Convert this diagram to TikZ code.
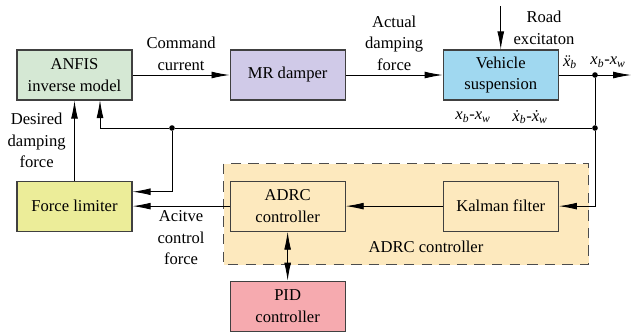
\documentclass[tikz,border=0pt]{standalone}
\usepackage{fontspec}
\setmainfont{Liberation Serif}
\usetikzlibrary{arrows.meta, positioning, calc, backgrounds}

\definecolor{anfisgreen}{RGB}{213,232,212}
\definecolor{mrpurple}{RGB}{208,202,232}
\definecolor{vehblue}{RGB}{160,216,240}
\definecolor{limyellow}{RGB}{236,237,153}
\definecolor{adrcorange}{RGB}{253,233,190}
\definecolor{pidred}{RGB}{246,170,175}

% italic state variables set in the text font
\newcommand{\sv}[2]{\textit{#1}\textsubscript{\textit{#2}}}

\begin{document}
\begin{tikzpicture}[node distance=2cm and 2.425cm,
  font=\fontsize{11.8}{15.2}\selectfont,
  blk/.style={draw=black!75, line width=0.8pt, minimum width=2.875cm,
              minimum height=1.25cm, align=center, inner sep=1pt},
  sig/.style={-{Latex[length=4.5mm, width=1.7mm]}, line width=0.6pt},
  dot/.style={circle, fill=black, inner sep=0pt, minimum size=1.4mm},
  lbl/.style={align=center, inner sep=1pt}]
  \useasboundingbox (0,0) rectangle (15.8,-8.275);

  % top row: plant chain
  \node[blk, fill=anfisgreen] at (1.8625,-1.875) (anfis) {ANFIS\\inverse model};
  \node[blk, fill=mrpurple, right=of anfis] (mr)  {MR damper};
  \node[blk, fill=vehblue,  right=of mr]    (veh) {Vehicle\\suspension};

  % bottom row: controller
  \node[blk, fill=limyellow,  below=of anfis] (flim) {Force limiter};
  \node[blk, fill=adrcorange, below=of mr]    (adrc) {ADRC\\controller};
  \node[blk, fill=adrcorange, below=of veh]   (kal)  {Kalman filter};
  \node[blk, fill=pidred, below=1.225cm of adrc] (pid) {PID\\controller};

  % dashed frame round the ADRC part
  \begin{scope}[on background layer]
    \draw[dash pattern=on 2.6mm off 1.8mm, black!70, line width=0.8pt,
          fill=adrcorange]
      ($(adrc.north west)+(-0.15,0.425)$) rectangle ($(kal.south east)+(0.75,-0.825)$);
  \end{scope}
  \node[lbl] at (10.65,-6.175) {ADRC controller};

  % junctions
  \coordinate (out) at (15.78,-1.875);
  \node[dot] at (14.875,-1.875) (jout) {};
  \node[dot] at (14.875,-3.2)   (jfb)  {};
  \node[dot] at (4.3,-3.2)      (jlim) {};
  \coordinate (road) at ($(veh.north)+(0,1.075)$);

  % forward path
  \draw[sig] (anfis) -- node[lbl, above=2pt] {Command\\current} (mr);
  \draw[sig] (mr) -- node[lbl, above=2pt] {Actual\\damping\\force} (veh);
  \draw[sig] (road) -- (veh);
  \node[lbl] at (13.6,-0.7) {Road\\excitaton};
  \draw[sig] (veh) -- (out);
  \node[inner sep=0pt] at (14.25,-1.55) {\sv{\"x}{b}};
  \node[inner sep=0pt] at (15.2,-1.55) {\sv{x}{b}-\sv{x}{w}};

  % feedback paths
  \draw[line width=0.6pt] (jout) -- (jfb);
  \draw[sig] (jfb) -- (jfb |- kal.east) -- (kal.east);
  \draw[sig] (jfb) -- (jlim) -- (2.5,-3.2) -- (2.5,-2.5);
  \node[inner sep=0pt] at (11.825,-2.925) {\sv{x}{b}-\sv{x}{w}};
  \node[inner sep=0pt] at (13.25,-2.925) {\sv{\.x}{b}-\sv{\.x}{w}};
  \draw[sig] (jlim) |- ($(flim.east)+(0,0.36)$);

  % controller chain
  \draw[sig] (kal) -- (adrc);
  \draw[sig] (adrc) -- node[lbl, below=2pt] {Acitve\\control\\force} (flim);
  \draw[sig] (flim) -- node[lbl, left=5pt] {Desired\\damping\\force} (anfis);
  \draw[{Latex[length=4.5mm, width=1.7mm]}-{Latex[length=4.5mm, width=1.7mm]},
        line width=0.6pt] (adrc) -- (pid);
\end{tikzpicture}
\end{document}
